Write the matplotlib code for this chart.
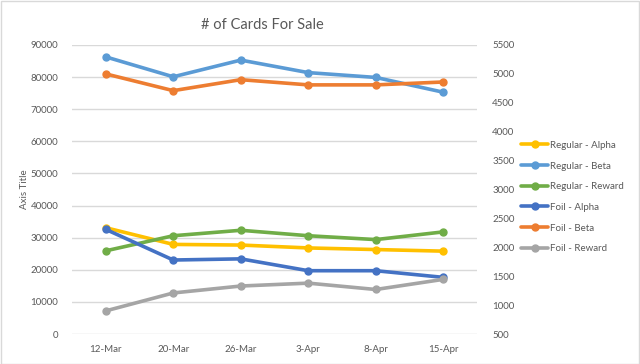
import matplotlib
matplotlib.use("Agg")
import matplotlib.pyplot as plt
from matplotlib.patches import Rectangle

dates = ["12-Mar", "20-Mar", "26-Mar", "3-Apr", "8-Apr", "15-Apr"]

# Primary (left) axis
regular_alpha = [33100, 27900, 27700, 26800, 26300, 25800]
regular_beta = [86300, 80100, 85300, 81400, 79900, 75300]
regular_reward = [25900, 30600, 32300, 30600, 29400, 31800]
# Secondary (right) axis
foil_alpha = [2310, 1780, 1800, 1595, 1595, 1480]
foil_beta = [5000, 4710, 4900, 4810, 4810, 4860]
foil_reward = [900, 1210, 1330, 1380, 1270, 1445]

left_ticks = list(range(0, 90001, 10000))
right_ticks = list(range(500, 5501, 500))

colors = {
    "Regular - Alpha": "#FFC000",
    "Regular - Beta": "#5B9BD5",
    "Regular - Reward": "#70AD47",
    "Foil - Alpha": "#4472C4",
    "Foil - Beta": "#ED7D31",
    "Foil - Reward": "#A5A5A5",
}

plt.rcParams['font.family'] = ['Lato', 'DejaVu Sans']
txt = "#595959"

fig = plt.figure(figsize=(6.4, 3.64), dpi=100)
W, H = 640, 364
x0, x1, y0, y1 = 72, 477, 45, 334
ax = fig.add_axes([x0 / W, 1 - y1 / H, (x1 - x0) / W, (y1 - y0) / H])
ax2 = ax.twinx()

x = list(range(len(dates)))
kw = dict(lw=2.6, marker='o', ms=5, solid_capstyle='round')
handles = []
for name, vals in [("Regular - Alpha", regular_alpha),
                   ("Regular - Beta", regular_beta),
                   ("Regular - Reward", regular_reward)]:
    h, = ax.plot(x, vals, color=colors[name], label=name, **kw)
    handles.append(h)
for name, vals in [("Foil - Alpha", foil_alpha),
                   ("Foil - Beta", foil_beta),
                   ("Foil - Reward", foil_reward)]:
    h, = ax2.plot(x, vals, color=colors[name], label=name, **kw)
    handles.append(h)

ax.set_xlim(-0.5, len(dates) - 0.5)
ax.set_ylim(0, 90000)
ax2.set_ylim(500, 5500)
ax.set_yticks(left_ticks)
ax.set_yticklabels([str(v) for v in left_ticks])
ax2.set_yticks(right_ticks)
ax2.set_yticklabels([str(v) for v in right_ticks])
ax.set_xticks(x)
ax.set_xticklabels(dates)

ax.grid(axis='y', color='#D9D9D9', lw=1)
ax.set_axisbelow(True)
for a in (ax, ax2):
    for s in a.spines.values():
        s.set_visible(False)
    a.tick_params(length=0, labelsize=7, colors=txt)
ax.tick_params(axis='y', pad=10)
ax2.tick_params(axis='y', pad=11)
ax.tick_params(axis='x', pad=8)

ax.set_ylabel("Axis Title", fontsize=7, color=txt, labelpad=1)

fig.text(262 / W, 1 - 25 / H, "# of Cards For Sale", ha='center', va='center',
         fontsize=10.5, color=txt)

leg = fig.legend(handles=handles, loc='upper left',
                 bbox_to_anchor=(517 / W, 1 - 137 / H),
                 frameon=False, fontsize=7, labelcolor=txt,
                 handlelength=2.8, handletextpad=0.2, labelspacing=1.2,
                 borderaxespad=0)

fig.patches.append(Rectangle((0.5 / W, 0.5 / H), 1 - 1.5 / W, 1 - 1.5 / H,
                             transform=fig.transFigure, fill=False,
                             edgecolor='#D9D9D9', lw=1))

fig.savefig("out.png", dpi=100)
